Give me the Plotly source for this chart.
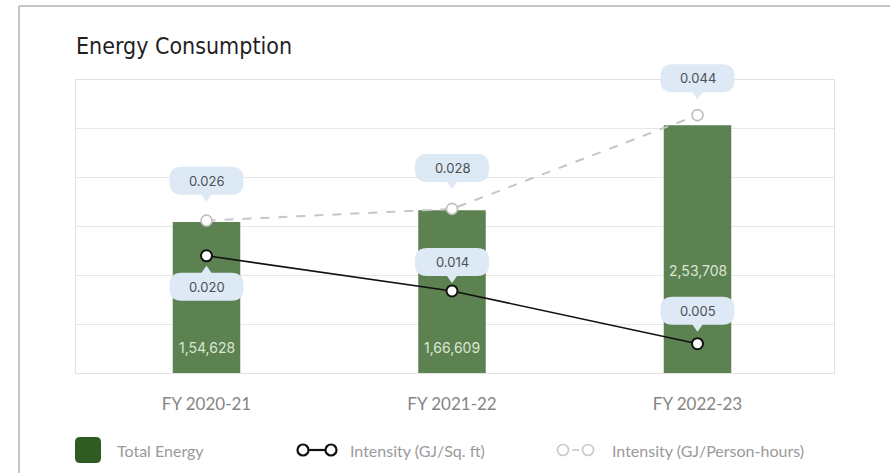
import plotly.graph_objects as go

# ---------------- data ----------------
categories = ["FY 2020-21", "FY 2021-22", "FY 2022-23"]
total_energy = [154628, 166609, 253708]
intensity_sqft = [0.020, 0.014, 0.005]
intensity_person_hours = [0.026, 0.028, 0.044]
energy_ticks = [0, 50000, 100000, 150000, 200000, 250000, 300000]
intensity_range = [0, 0.05]
legend_labels = ["Total Energy", "Intensity (GJ/Sq. ft)", "Intensity (GJ/Person-hours)"]

# ---------------- styling / offsets (pixels) ----------------
bar_label_shift = [26, 26, 103]
sqft_side = [-1, 1, 1]          # -1: bubble below the point
sqft_gap = [10, 8, 12]
ph_side = [1, 1, 1]
ph_gap = [19, 20, 16]

W, H = 890, 473
ML, MR, MT, MB = 76, 56, 80, 100
PW, PH = W - ML - MR, H - MT - MB

BAR_COLOR = "#5b8250"
BUBBLE_COLOR = "#dde9f4"
BUBBLE_TEXT = "#4b5057"
GRID = "#e7e7e7"


def inr(n):
    s = str(int(n))
    last3, rest = s[-3:], s[:-3]
    groups = []
    while len(rest) > 2:
        groups.insert(0, rest[-2:])
        rest = rest[:-2]
    if rest:
        groups.insert(0, rest)
    return ",".join(groups + [last3])


def px(x):
    return (x - ML) / PW


def py(y):
    return (H - MB - y) / PH


def y2_frac(v):
    # position of a y2 value as a fraction of the plot height (linear y2 axis)
    return (v - intensity_range[0]) / (intensity_range[1] - intensity_range[0])


def bubble_path(side, gap, w=74, h=28, r=12, ph=7, pw=5):
    tip = gap
    base = gap + ph
    top = base + h
    hw = w / 2
    pts = [
        ("M", [(0, tip)]),
        ("L", [(pw, base)]),
        ("L", [(hw - r, base)]),
        ("Q", [(hw, base), (hw, base + r)]),
        ("L", [(hw, top - r)]),
        ("Q", [(hw, top), (hw - r, top)]),
        ("L", [(-hw + r, top)]),
        ("Q", [(-hw, top), (-hw, top - r)]),
        ("L", [(-hw, base + r)]),
        ("Q", [(-hw, base), (-hw + r, base)]),
        ("L", [(-pw, base)]),
    ]
    out = []
    for cmd, coords in pts:
        out.append(cmd + " " + " ".join(f"{x:.2f},{side * y:.2f}" for x, y in coords))
    return " ".join(out) + " Z", side * (base + h / 2)


def rounded_rect(w, h, r):
    hw, hh = w / 2, h / 2
    return (f"M {-hw + r},{-hh} L {hw - r},{-hh} Q {hw},{-hh} {hw},{-hh + r} "
            f"L {hw},{hh - r} Q {hw},{hh} {hw - r},{hh} L {-hw + r},{hh} "
            f"Q {-hw},{hh} {-hw},{hh - r} L {-hw},{-hh + r} Q {-hw},{-hh} {-hw + r},{-hh} Z")


fig = go.Figure()

fig.add_trace(go.Bar(
    x=categories, y=total_energy, name=legend_labels[0],
    marker=dict(color=BAR_COLOR, line=dict(width=0)),
    width=0.275, yaxis="y", hoverinfo="x+y",
))

fig.add_trace(go.Scatter(
    x=categories, y=intensity_person_hours, name=legend_labels[2], yaxis="y2",
    mode="lines+markers",
    line=dict(color="#c6c6c6", width=2, dash="dash"),
    marker=dict(size=11, color="white", line=dict(color="#bdbdbd", width=1.6)),
))

fig.add_trace(go.Scatter(
    x=categories, y=intensity_sqft, name=legend_labels[1], yaxis="y2",
    mode="lines+markers",
    line=dict(color="#111111", width=1.6),
    marker=dict(size=11, color="white", line=dict(color="#111111", width=2)),
))

shapes = []
annotations = []

# value bubbles
for series, sides, gaps in ((intensity_person_hours, ph_side, ph_gap),
                            (intensity_sqft, sqft_side, sqft_gap)):
    for cat, val, side, gap in zip(categories, series, sides, gaps):
        path, text_shift = bubble_path(side, gap)
        shapes.append(dict(
            type="path", xref="x", yref="paper", xsizemode="pixel", ysizemode="pixel",
            xanchor=cat, yanchor=y2_frac(val), path=path,
            fillcolor=BUBBLE_COLOR, line=dict(width=0), layer="above",
        ))
        annotations.append(dict(
            x=cat, y=val, xref="x", yref="y2", text=f"{val:.3f}", showarrow=False,
            yshift=text_shift, font=dict(family="Inter, Open Sans, sans-serif", size=13, color=BUBBLE_TEXT),
        ))

# bar value labels
for cat, val, shift in zip(categories, total_energy, bar_label_shift):
    annotations.append(dict(
        x=cat, y=0, xref="x", yref="y", text=inr(val), showarrow=False, yshift=shift,
        font=dict(family="Inter, Open Sans, sans-serif", size=14, color="#dbe6d3"),
    ))

# outer frame (top and left border)
shapes.append(dict(type="line", xref="paper", yref="paper", x0=px(19), x1=px(W + 5),
                   y0=py(6), y1=py(6), line=dict(color="#b3b3b3", width=1.5), layer="below"))
shapes.append(dict(type="line", xref="paper", yref="paper", x0=px(19), x1=px(19),
                   y0=py(6), y1=py(H + 5), line=dict(color="#b3b3b3", width=1.5), layer="below"))

# custom legend
LEG_Y = 450
leg_font = dict(family="Lato, Open Sans, sans-serif", size=16, color="#9a9a9a")
shapes.append(dict(type="path", xref="paper", yref="paper", xsizemode="pixel", ysizemode="pixel",
                   xanchor=px(88), yanchor=py(LEG_Y), path=rounded_rect(26, 26, 5),
                   fillcolor="#2e5c22", line=dict(width=0)))
annotations.append(dict(x=px(115), y=py(LEG_Y), xref="paper", yref="paper", xanchor="left",
                        yanchor="middle", text=legend_labels[0], showarrow=False, font=leg_font))


def legend_pair(cx1, cx2, color, lw, dash_len=None):
    r = 5.5
    if dash_len is None:
        lx0, lx1 = cx1 + r, cx2 - r
    else:
        mid = (cx1 + cx2) / 2
        lx0, lx1 = mid - dash_len / 2, mid + dash_len / 2
    shapes.append(dict(type="line", xref="paper", yref="paper", x0=px(lx0), x1=px(lx1),
                       y0=py(LEG_Y), y1=py(LEG_Y), line=dict(color=color, width=lw)))
    for cx in (cx1, cx2):
        shapes.append(dict(type="circle", xref="paper", yref="paper", xsizemode="pixel",
                           ysizemode="pixel", xanchor=px(cx), yanchor=py(LEG_Y),
                           x0=-r, x1=r, y0=-r, y1=r, fillcolor="white",
                           line=dict(color=color, width=lw)))


legend_pair(303, 331, "#111111", 2.2)
annotations.append(dict(x=px(348), y=py(LEG_Y), xref="paper", yref="paper", xanchor="left",
                        yanchor="middle", text=legend_labels[1], showarrow=False, font=leg_font))
legend_pair(563, 588, "#c9c9c9", 1.6, dash_len=7)
annotations.append(dict(x=px(610), y=py(LEG_Y), xref="paper", yref="paper", xanchor="left",
                        yanchor="middle", text=legend_labels[2], showarrow=False, font=leg_font))

cat_unit = 245.5
x_lo = -(206.5 - ML) / cat_unit
x_hi = 2 + (ML + PW - 697.5) / cat_unit

fig.update_layout(
    width=W, height=H, autosize=False,
    margin=dict(l=ML, r=MR, t=MT, b=MB, pad=0),
    paper_bgcolor="white", plot_bgcolor="white",
    showlegend=False,
    title=dict(text="Energy Consumption", xref="paper", x=0, xanchor="left",
               yref="container", y=1 - 46 / H, yanchor="middle",
               font=dict(family="DejaVu Sans Condensed, Liberation Sans Narrow, sans-serif",
                         size=23, color="#1f1f1f")),
    xaxis=dict(type="category", range=[x_lo, x_hi], showgrid=False, zeroline=False,
               showline=True, mirror=True, linecolor="#e2e2e2", linewidth=1, ticks="",
               ticklabelstandoff=16,
               tickfont=dict(family="Lato, Open Sans, sans-serif", size=17, color="#858585")),
    yaxis=dict(range=[0, energy_ticks[-1]], tickvals=energy_ticks, showticklabels=False,
               showgrid=True, gridcolor=GRID, gridwidth=1, zeroline=False,
               showline=True, mirror=True, linecolor="#e2e2e2", linewidth=1, ticks=""),
    yaxis2=dict(range=intensity_range, overlaying="y", side="right", showgrid=False,
                showticklabels=False, zeroline=False, showline=False, ticks=""),
    shapes=shapes, annotations=annotations,
)

fig.write_html("out.html")
